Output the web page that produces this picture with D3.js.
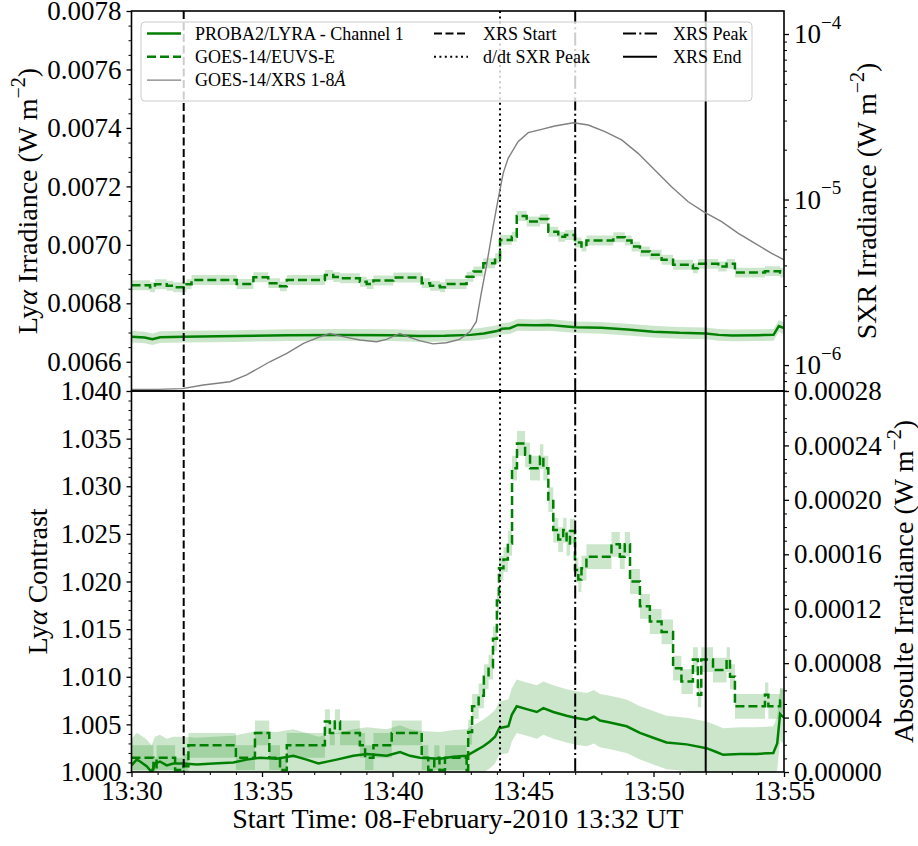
<!DOCTYPE html>
<html>
<head>
<meta charset="utf-8">
<script src="https://cdn.jsdelivr.net/npm/d3@7"></script>
<style>
  body { margin: 0; background: #fff; }
  svg { display: block; }
  text { font-family: "Liberation Serif", "Times New Roman", serif; fill: #000; }
</style>
</head>
<body>
<svg id="chart" width="918" height="846"></svg>
<script>
// ---- data (time = minutes after 13:30 UT, 08-Feb-2010) ----

// PROBA2/LYRA channel 1 irradiance (W m^-2)
const lyraIrrTime = [0, 0.5, 0.8, 1.1, 2, 4, 6, 8, 10, 11, 12, 13, 13.5, 14, 14.2, 14.5, 14.8, 15.5, 16, 17, 18, 19, 20, 21, 22, 22.5, 23, 24, 24.6, 24.8, 25];
const lyraIrrValue = [0.006686, 0.006683, 0.006677, 0.006684, 0.006686, 0.006688, 0.006691, 0.006692, 0.006691, 0.006688, 0.006689, 0.006692, 0.006697, 0.006705, 0.006713, 0.006715, 0.006726, 0.006725, 0.006726, 0.006718, 0.006716, 0.006710, 0.006703, 0.006699, 0.006697, 0.006692, 0.006690, 0.006691, 0.006692, 0.006722, 0.006715];
const lyraIrrErr = 0.00002;

// GOES-14/EUVS-E irradiance (W m^-2), stepped
const euvsIrrTime = [0, 0.71, 0.90, 1.35, 1.60, 2.11, 2.30, 4.03, 4.67, 5.24, 5.69, 5.95, 7.41, 7.73, 7.99, 8.75, 9.01, 9.27, 10.03, 11.12, 11.44, 11.82, 12.01, 12.84, 13.10, 13.48, 13.93, 14.12, 14.57, 14.76, 15.14, 15.65, 15.97, 16.35, 16.61, 16.99, 17.24, 17.43, 18.46, 18.90, 19.16, 19.48, 19.86, 20.31, 20.75, 21.51, 21.70, 22.48, 22.80, 23.12, 24.27, 24.85];
const euvsIrrValue = [0.006862, 0.006855, 0.006865, 0.006860, 0.006855, 0.006865, 0.006880, 0.006866, 0.006889, 0.006869, 0.006858, 0.006880, 0.006897, 0.006890, 0.006886, 0.006874, 0.006866, 0.006878, 0.006888, 0.006869, 0.006860, 0.006855, 0.006866, 0.006891, 0.006909, 0.006937, 0.006954, 0.007017, 0.007028, 0.007099, 0.007080, 0.007088, 0.007045, 0.007028, 0.007034, 0.007008, 0.006994, 0.007015, 0.007026, 0.007015, 0.006994, 0.006977, 0.006966, 0.006949, 0.006932, 0.006920, 0.006935, 0.006926, 0.006935, 0.006905, 0.006910, 0.006905];
const euvsIrrErr = 0.000017;

// GOES-14/XRS 1-8 A flux (W m^-2)
const xrsTime = [0, 1, 1.95, 2.75, 3.77, 4.41, 5.3, 5.95, 6.59, 7.23, 7.6, 8.24, 8.75, 9.39, 9.77, 10.28, 10.66, 11.04, 11.55, 12.06, 12.57, 12.96, 13.21, 13.4, 13.6, 13.86, 14.04, 14.24, 14.43, 14.81, 15.2, 15.71, 16.22, 16.93, 17.5, 18.14, 18.78, 19.41, 20.05, 20.69, 21.33, 21.93, 22.61, 23.25, 23.89, 24.53, 25];
const xrsFlux = [7.13e-7, 7.13e-7, 7.2e-7, 7.57e-7, 7.93e-7, 8.71e-7, 1.047e-6, 1.178e-6, 1.352e-6, 1.483e-6, 1.552e-6, 1.469e-6, 1.416e-6, 1.384e-6, 1.429e-6, 1.552e-6, 1.469e-6, 1.406e-6, 1.343e-6, 1.365e-6, 1.429e-6, 1.589e-6, 1.828e-6, 2.71e-6, 3.98e-6, 6.92e-6, 9.93e-6, 1.439e-5, 1.774e-5, 2.234e-5, 2.535e-5, 2.655e-5, 2.78e-5, 2.911e-5, 2.818e-5, 2.57e-5, 2.291e-5, 1.901e-5, 1.507e-5, 1.194e-5, 9.7e-6, 8.43e-6, 7.35e-6, 6.25e-6, 5.43e-6, 4.73e-6, 4.32e-6];

// PROBA2/LYRA channel 1 contrast
const lyraConTime = [0, 0.2, 0.33, 0.58, 0.77, 0.9, 1.09, 1.35, 1.6, 1.99, 2.5, 3.14, 3.9, 4.41, 4.92, 5.56, 6.2, 6.71, 7.16, 7.86, 8.5, 9.01, 9.78, 10.29, 10.67, 11.05, 11.82, 12.33, 12.84, 13.22, 13.48, 13.73, 13.93, 14.09, 14.44, 14.57, 14.76, 15.14, 15.53, 15.78, 16.16, 16.67, 16.99, 17.44, 17.72, 17.95, 18.33, 18.97, 19.48, 19.99, 20.5, 21.27, 22.03, 22.41, 22.67, 23.31, 23.95, 24.59, 24.74, 24.85, 25];
const lyraConValue = [1.0007, 1.0013, 1.0011, 1.0006, 1.0000, 1.0009, 1.0011, 1.0007, 1.0009, 1.0009, 1.0008, 1.0009, 1.0010, 1.0013, 1.0015, 1.0014, 1.0017, 1.0013, 1.0009, 1.0013, 1.0017, 1.0019, 1.0017, 1.0021, 1.0017, 1.0015, 1.0014, 1.0016, 1.0017, 1.0023, 1.0027, 1.0032, 1.0037, 1.0046, 1.0048, 1.0060, 1.0069, 1.0066, 1.0063, 1.0067, 1.0063, 1.0059, 1.0057, 1.0055, 1.0058, 1.0054, 1.0052, 1.0048, 1.0041, 1.0036, 1.0031, 1.0029, 1.0025, 1.0021, 1.0018, 1.0019, 1.0019, 1.0020, 1.0030, 1.0061, 1.0057];
const lyraConErr = 0.0028;

// GOES-14/EUVS-E contrast, stepped
const euvsConTime = [0, 0.84, 0.96, 1.67, 1.99, 2.18, 4.0, 4.73, 5.28, 5.69, 5.95, 7.41, 7.6, 7.79, 7.99, 8.75, 8.95, 9.27, 9.97, 11.12, 11.37, 11.6, 11.8, 12.01, 12.84, 12.9, 13.05, 13.3, 13.5, 13.68, 13.85, 14.0, 14.08, 14.25, 14.42, 14.58, 14.77, 15.08, 15.27, 15.65, 15.78, 15.97, 16.16, 16.35, 16.54, 16.67, 16.8, 16.99, 17.12, 17.24, 17.43, 18.39, 18.71, 18.9, 19.1, 19.48, 19.86, 20.31, 20.75, 21.07, 21.51, 21.7, 21.83, 22.28, 22.8, 22.93, 23.12, 24.27, 24.4, 24.85];
const euvsConValue = [1.0015, 1.0002, 1.0015, 1.0002, 1.0006, 1.0028, 1.0015, 1.0041, 1.0015, 1.0002, 1.0028, 1.0053, 1.0041, 1.0053, 1.0041, 1.0028, 1.0015, 1.0028, 1.0041, 1.0015, 1.0002, 1.0015, 1.0002, 1.0015, 1.0002, 1.0042, 1.0069, 1.0080, 1.0100, 1.0110, 1.0140, 1.0180, 1.0214, 1.0223, 1.0240, 1.0319, 1.0345, 1.0333, 1.0319, 1.0331, 1.0319, 1.0286, 1.0254, 1.0244, 1.0254, 1.0240, 1.0253, 1.0212, 1.0202, 1.0214, 1.0226, 1.0239, 1.0226, 1.0239, 1.0200, 1.0174, 1.0158, 1.0147, 1.0109, 1.0095, 1.0118, 1.0081, 1.0118, 1.0107, 1.0118, 1.0100, 1.0069, 1.0081, 1.0069, 1.0075];
const euvsConErr = 0.0013;

// flare timing markers
const eventNames = ["XRS Start", "d/dt SXR Peak", "XRS Peak", "XRS End"];
const eventTime = [2, 14.12, 17, 22];

// axis ticks
const xTickMinutes = [0, 5, 10, 15, 20, 25];
const xTickLabels = ["13:30", "13:35", "13:40", "13:45", "13:50", "13:55"];
const irrTicks = [0.0066, 0.0068, 0.0070, 0.0072, 0.0074, 0.0076, 0.0078];
const irrTickLabels = ["0.0066", "0.0068", "0.0070", "0.0072", "0.0074", "0.0076", "0.0078"];
const sxrTicks = [1e-6, 1e-5, 1e-4];
const sxrTickExponents = ["\u22126", "\u22125", "\u22124"];
const conTicks = [1.000, 1.005, 1.010, 1.015, 1.020, 1.025, 1.030, 1.035, 1.040];
const conTickLabels = ["1.000", "1.005", "1.010", "1.015", "1.020", "1.025", "1.030", "1.035", "1.040"];
const absTicks = [0, 0.00004, 0.00008, 0.00012, 0.00016, 0.00020, 0.00024, 0.00028];
const absTickLabels = ["0.00000", "0.00004", "0.00008", "0.00012", "0.00016", "0.00020", "0.00024", "0.00028"];

// ---- layout ----
const L = 131.5, R = 784, T = 11, M = 391, B = 772;
const GREEN = "#008000", BAND = "rgba(0,128,0,0.2)", GREY = "#808080";
const TICK_FONT = 27, LABEL_FONT = 28;

const svg = d3.select("#chart");
const t0 = Date.UTC(2010, 1, 8, 13, 30);
const at = m => new Date(t0 + m * 60000);

const x = d3.scaleUtc().domain([at(0), at(25)]).range([L, R]);
const yIrr = d3.scaleLinear().domain([0.0065, 0.0078]).range([M, T]);
const ySxr = d3.scaleLog().domain([6.97e-7, 1.377e-4]).range([M, T]);
const yCon = d3.scaleLinear().domain([1.000, 1.040]).range([B, M]);
const yAbs = d3.scaleLinear().domain([0, 0.00028]).range([B, M]);

const zip = (a, b) => a.map((t, i) => [t, b[i]]);
const extend = arr => arr.concat([[25, arr[arr.length - 1][1]]]);

const lyraIrr = zip(lyraIrrTime, lyraIrrValue);
const euvsIrr = extend(zip(euvsIrrTime, euvsIrrValue));
const xrs = zip(xrsTime, xrsFlux);
const lyraCon = zip(lyraConTime, lyraConValue);
const euvsCon = extend(zip(euvsConTime, euvsConValue));

const defs = svg.append("defs");
defs.append("clipPath").attr("id", "clipTop").append("rect").attr("x", L).attr("y", T).attr("width", R - L).attr("height", M - T);
defs.append("clipPath").attr("id", "clipBot").append("rect").attr("x", L).attr("y", M).attr("width", R - L).attr("height", B - M);

function band(g, data, y, err, curve) {
  g.append("path").datum(data)
    .attr("fill", BAND).attr("stroke", "none")
    .attr("d", d3.area().curve(curve).x(d => x(at(d[0]))).y0(d => y(d[1] - err)).y1(d => y(d[1] + err)));
}
function line(g, data, y, curve, color, width, dash) {
  g.append("path").datum(data)
    .attr("fill", "none").attr("stroke", color).attr("stroke-width", width)
    .attr("stroke-dasharray", dash || null)
    .attr("d", d3.line().curve(curve).x(d => x(at(d[0]))).y(d => y(d[1])));
}

const eventDash = ["8,3.5", "2,3.4", "13,3.3,2,3.3", null];
function events(g, y0, y1) {
  eventTime.forEach((m, i) => {
    g.append("line").attr("x1", x(at(m))).attr("x2", x(at(m))).attr("y1", y0).attr("y2", y1)
      .attr("stroke", "#000").attr("stroke-width", 2).attr("stroke-dasharray", eventDash[i]);
  });
}

// ---- upper panel ----
const upper = svg.append("g").attr("clip-path", "url(#clipTop)");
band(upper, lyraIrr, yIrr, lyraIrrErr, d3.curveLinear);
band(upper, euvsIrr, yIrr, euvsIrrErr, d3.curveStepAfter);
line(upper, lyraIrr, yIrr, d3.curveLinear, GREEN, 2.5);
line(upper, euvsIrr, yIrr, d3.curveStepAfter, GREEN, 2.5, "9,4");
events(upper, T, M);
line(upper, xrs, ySxr, d3.curveLinear, GREY, 1.4);

// ---- lower panel ----
const lower = svg.append("g").attr("clip-path", "url(#clipBot)");
band(lower, lyraCon, yCon, lyraConErr, d3.curveLinear);
band(lower, euvsCon, yCon, euvsConErr, d3.curveStepAfter);
line(lower, lyraCon, yCon, d3.curveLinear, GREEN, 2.5);
line(lower, euvsCon, yCon, d3.curveStepAfter, GREEN, 2.5, "9,4");
events(lower, M, B);

// ---- axes ----
function styleAxis(g) {
  g.select(".domain").remove();
  g.selectAll(".tick line").attr("stroke", "#000").attr("stroke-width", 1.3);
  g.selectAll(".tick text").attr("font-size", TICK_FONT).attr("font-family", "Liberation Serif");
}
function minor(axisFn, scale, values, tx, ty) {
  svg.append("g").attr("transform", `translate(${tx},${ty})`)
    .call(axisFn(scale).tickValues(values).tickSize(3).tickFormat(""))
    .call(g => { g.select(".domain").remove(); g.selectAll(".tick line").attr("stroke", "#000").attr("stroke-width", 1); });
}

// left, upper panel
svg.append("g").attr("transform", `translate(${L},0)`)
  .call(d3.axisLeft(yIrr).tickValues(irrTicks).tickFormat((d, i) => irrTickLabels[i]).tickSize(5).tickPadding(5))
  .call(styleAxis);
minor(d3.axisLeft, yIrr, d3.range(0.0065, 0.00781, 0.00005).filter(v => Math.abs(Math.round(v / 0.0002) * 0.0002 - v) > 1e-9), L, 0);

// right, upper panel (log)
const sxrAxis = svg.append("g").attr("transform", `translate(${R},0)`)
  .call(d3.axisRight(ySxr).tickValues(sxrTicks).tickFormat("").tickSize(5).tickPadding(5))
  .call(styleAxis);
sxrAxis.selectAll(".tick text").each(function (d, i) {
  const t = d3.select(this).attr("dy", "0.32em");
  t.append("tspan").text("10");
  t.append("tspan").attr("font-size", 19).attr("dy", "-0.75em").text(sxrTickExponents[i]);
});
const logMinor = [];
[-7, -6, -5, -4].forEach(e => d3.range(2, 10).forEach(k => {
  const v = k * Math.pow(10, e);
  if (v > ySxr.domain()[0] && v < ySxr.domain()[1]) logMinor.push(v);
}));
minor(d3.axisRight, ySxr, logMinor, R, 0);

// left, lower panel
svg.append("g").attr("transform", `translate(${L},0)`)
  .call(d3.axisLeft(yCon).tickValues(conTicks).tickFormat((d, i) => conTickLabels[i]).tickSize(5).tickPadding(5))
  .call(styleAxis);
minor(d3.axisLeft, yCon, d3.range(1.001, 1.040, 0.001).filter((v, i) => (i + 1) % 5 !== 0), L, 0);

// right, lower panel
svg.append("g").attr("transform", `translate(${R},0)`)
  .call(d3.axisRight(yAbs).tickValues(absTicks).tickFormat((d, i) => absTickLabels[i]).tickSize(5).tickPadding(5))
  .call(styleAxis);
minor(d3.axisRight, yAbs, d3.range(0.00001, 0.00028, 0.00001).filter((v, i) => (i + 1) % 4 !== 0), R, 0);

// time axis
svg.append("g").attr("transform", `translate(0,${B})`)
  .call(d3.axisBottom(x).tickValues(xTickMinutes.map(at)).tickFormat((d, i) => xTickLabels[i]).tickSize(5).tickPadding(4))
  .call(styleAxis);
minor(d3.axisBottom, x, d3.range(1, 25).filter(m => m % 5 !== 0).map(at), 0, B);

// frames
[[T, M], [M, B]].forEach(([a, b]) => {
  svg.append("rect").attr("x", L).attr("y", a).attr("width", R - L).attr("height", b - a)
    .attr("fill", "none").attr("stroke", "#000").attr("stroke-width", 1.6);
});

// ---- axis titles ----
function vlabel(cx, cy, parts) {
  const t = svg.append("text").attr("transform", `translate(${cx},${cy}) rotate(-90)`)
    .attr("text-anchor", "middle").attr("font-size", LABEL_FONT);
  parts(t);
}
const irrUnit = t => {
  t.append("tspan").text(" (W m");
  t.append("tspan").attr("font-size", 20).attr("dy", "-0.6em").text("\u22122");
  t.append("tspan").attr("dy", "0.42em").text(")");
};
vlabel(37, (T + M) / 2, t => { t.append("tspan").text("Ly"); t.append("tspan").attr("font-style", "italic").text("\u03b1"); t.append("tspan").text(" Irradiance"); irrUnit(t); });
vlabel(47, (M + B) / 2, t => { t.append("tspan").text("Ly"); t.append("tspan").attr("font-style", "italic").text("\u03b1"); t.append("tspan").text(" Contrast"); });
vlabel(876, (T + M) / 2, t => { t.append("tspan").text("SXR Irradiance"); irrUnit(t); });
vlabel(913, (M + B) / 2, t => { t.append("tspan").text("Absoulte Irradiance"); irrUnit(t); });

svg.append("text").attr("x", (L + R) / 2).attr("y", 828).attr("text-anchor", "middle")
  .attr("font-size", LABEL_FONT).text("Start Time: 08-February-2010 13:32 UT");

// ---- legend ----
const lg = svg.append("g");
lg.append("rect").attr("x", 141).attr("y", 22).attr("width", 611).attr("height", 79).attr("rx", 4)
  .attr("fill", "rgba(255,255,255,0.8)").attr("stroke", "#cccccc").attr("stroke-width", 1);
const legendItems = [
  { label: "PROBA2/LYRA - Channel 1", color: GREEN, dash: null, col: 0, row: 0 },
  { label: "GOES-14/EUVS-E", color: GREEN, dash: "9,4", col: 0, row: 1 },
  { label: "GOES-14/XRS 1-8", color: GREY, dash: null, col: 0, row: 2, width: 1.4, suffix: "\u00c5" },
  { label: eventNames[0], color: "#000", dash: eventDash[0], col: 1, row: 0 },
  { label: eventNames[1], color: "#000", dash: eventDash[1], col: 1, row: 1 },
  { label: eventNames[2], color: "#000", dash: eventDash[2], col: 2, row: 0 },
  { label: eventNames[3], color: "#000", dash: eventDash[3], col: 2, row: 1 }
];
const colLine = [147, 434, 623], colText = [195, 483, 673];
legendItems.forEach(it => {
  const cy = 33.5 + it.row * 23.3;
  lg.append("line").attr("x1", colLine[it.col]).attr("x2", colLine[it.col] + 34).attr("y1", cy).attr("y2", cy)
    .attr("stroke", it.color).attr("stroke-width", it.width || (it.color === GREEN ? 2.5 : 2)).attr("stroke-dasharray", it.dash);
  const t = lg.append("text").attr("x", colText[it.col]).attr("y", cy + 6).attr("font-size", 18).text(it.label);
  if (it.suffix) t.append("tspan").attr("font-style", "italic").text(it.suffix);
});
</script>
</body>
</html>
